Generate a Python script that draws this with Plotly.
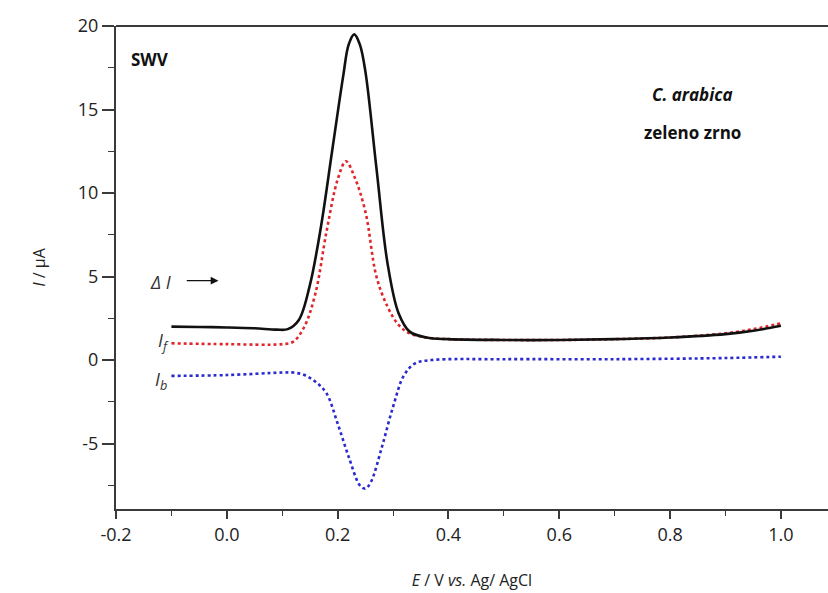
import plotly.graph_objects as go

# Delta I (net current) - black solid
x_dI = [-0.1, -0.05, 0.0, 0.05, 0.09, 0.11, 0.13, 0.15, 0.17, 0.19, 0.21, 0.22, 0.23, 0.24, 0.25, 0.27, 0.29, 0.31, 0.33, 0.36, 0.4, 0.5, 0.6, 0.7, 0.8, 0.9, 0.95, 1.0]
y_dI = [2.0, 1.98, 1.95, 1.9, 1.82, 1.85, 2.4, 4.5, 8.0, 12.5, 17.0, 18.9, 19.5, 18.9, 17.3, 11.5, 5.8, 2.8, 1.7, 1.35, 1.25, 1.2, 1.2, 1.25, 1.35, 1.55, 1.75, 2.05]

# I_f (forward current) - red dotted
x_f = [-0.1, 0.0, 0.1, 0.12, 0.14, 0.16, 0.18, 0.2, 0.215, 0.23, 0.25, 0.27, 0.29, 0.31, 0.33, 0.36, 0.4, 0.5, 0.6, 0.7, 0.8, 0.9, 0.95, 1.0]
y_f = [1.0, 0.95, 0.95, 1.1, 2.0, 4.0, 7.7, 10.8, 11.9, 11.0, 8.9, 5.0, 3.2, 2.1, 1.6, 1.35, 1.25, 1.2, 1.2, 1.25, 1.35, 1.6, 1.85, 2.2]

# I_b (backward current) - blue dotted
x_b = [-0.1, 0.0, 0.1, 0.12, 0.14, 0.16, 0.18, 0.2, 0.22, 0.24, 0.25, 0.26, 0.28, 0.3, 0.32, 0.34, 0.37, 0.5, 0.7, 0.9, 1.0]
y_b = [-0.95, -0.9, -0.75, -0.75, -0.9, -1.3, -2.0, -3.8, -5.8, -7.5, -7.7, -7.3, -5.2, -2.8, -0.9, -0.2, 0.0, 0.05, 0.05, 0.12, 0.2]

x_ticks = [-0.2, 0.0, 0.2, 0.4, 0.6, 0.8, 1.0]
x_ticklabels = ["-0.2", "0.0", "0.2", "0.4", "0.6", "0.8", "1.0"]
y_ticks = [-5, 0, 5, 10, 15, 20]
y_ticklabels = ["-5", "0", "5", "10", "15", "20"]

axis_col = "#3a3a3a"
font_fam = "Open Sans, Liberation Sans, sans-serif"

fig = go.Figure()
fig.add_trace(go.Scatter(x=x_f, y=y_f, mode="lines", line=dict(color="#e0262a", width=2.6, dash="dot", shape="spline"), showlegend=False))
fig.add_trace(go.Scatter(x=x_b, y=y_b, mode="lines", line=dict(color="#2a2ad0", width=2.6, dash="dot", shape="spline"), showlegend=False))
fig.add_trace(go.Scatter(x=x_dI, y=y_dI, mode="lines", line=dict(color="#111111", width=2.6, shape="spline"), showlegend=False))

fig.update_layout(
    width=828, height=593,
    margin=dict(l=116, r=0, t=26, b=84),
    paper_bgcolor="white", plot_bgcolor="white",
    font=dict(family=font_fam, color="#222222", size=18),
    xaxis=dict(
        range=[-0.2, 1.085], tickvals=x_ticks, ticktext=x_ticklabels,
        showline=True, linecolor=axis_col, linewidth=2,
        ticks="outside", ticklen=8, tickwidth=1.5, tickcolor=axis_col,
        minor=dict(dtick=0.1, tick0=-0.2, ticks="outside", ticklen=5, tickcolor=axis_col, tickwidth=1.2),
        showgrid=False, zeroline=False,
        tickfont=dict(size=18),
        title=dict(text="<i>E</i> / V <i>vs.</i> Ag/ AgCl", font=dict(size=16), standoff=30),
    ),
    yaxis=dict(
        range=[-8.92, 20], tickvals=y_ticks, ticktext=y_ticklabels,
        showline=True, linecolor=axis_col, linewidth=2,
        ticks="outside", ticklen=12, tickwidth=1.5, tickcolor=axis_col,
        minor=dict(dtick=2.5, tick0=0, ticks="outside", ticklen=6, tickcolor=axis_col, tickwidth=1.2),
        showgrid=False, zeroline=False,
        tickfont=dict(size=18),
        title=dict(text="<i>I</i> / μA", font=dict(size=16), standoff=28),
    ),
)

# top frame line
fig.add_shape(type="line", xref="paper", yref="paper", x0=0, x1=1, y0=1, y1=1,
              line=dict(color=axis_col, width=2))

ann_font = dict(family=font_fam, size=17, color="#111111")
fig.add_annotation(x=-0.139, y=18.0, text="<b>SWV</b>", showarrow=False, font=ann_font)
fig.add_annotation(x=0.84, y=15.9, text="<b><i>C. arabica</i></b>", showarrow=False, font=ann_font)
fig.add_annotation(x=0.84, y=13.65, text="<b>zeleno zrno</b>", showarrow=False, font=ann_font)
fig.add_annotation(x=-0.12, y=4.7, text="<i>Δ I</i>", showarrow=False, font=dict(family=font_fam, size=18, color="#333333"))
fig.add_annotation(x=-0.015, y=4.75, ax=-0.075, ay=4.75, axref="x", ayref="y", text="",
                   showarrow=True, arrowhead=2, arrowsize=1.2, arrowwidth=1.3, arrowcolor="#111111")
fig.add_annotation(x=-0.115, y=1.1, text="<i>I</i><sub><i>f</i></sub>", showarrow=False, font=dict(family=font_fam, size=18, color="#333333"))
fig.add_annotation(x=-0.118, y=-1.2, text="<i>I</i><sub><i>b</i></sub>", showarrow=False, font=dict(family=font_fam, size=18, color="#333333"))

fig.write_html("out.html", config={"displayModeBar": False},
               post_script="document.body.style.margin='0';document.body.style.overflow='hidden';")
